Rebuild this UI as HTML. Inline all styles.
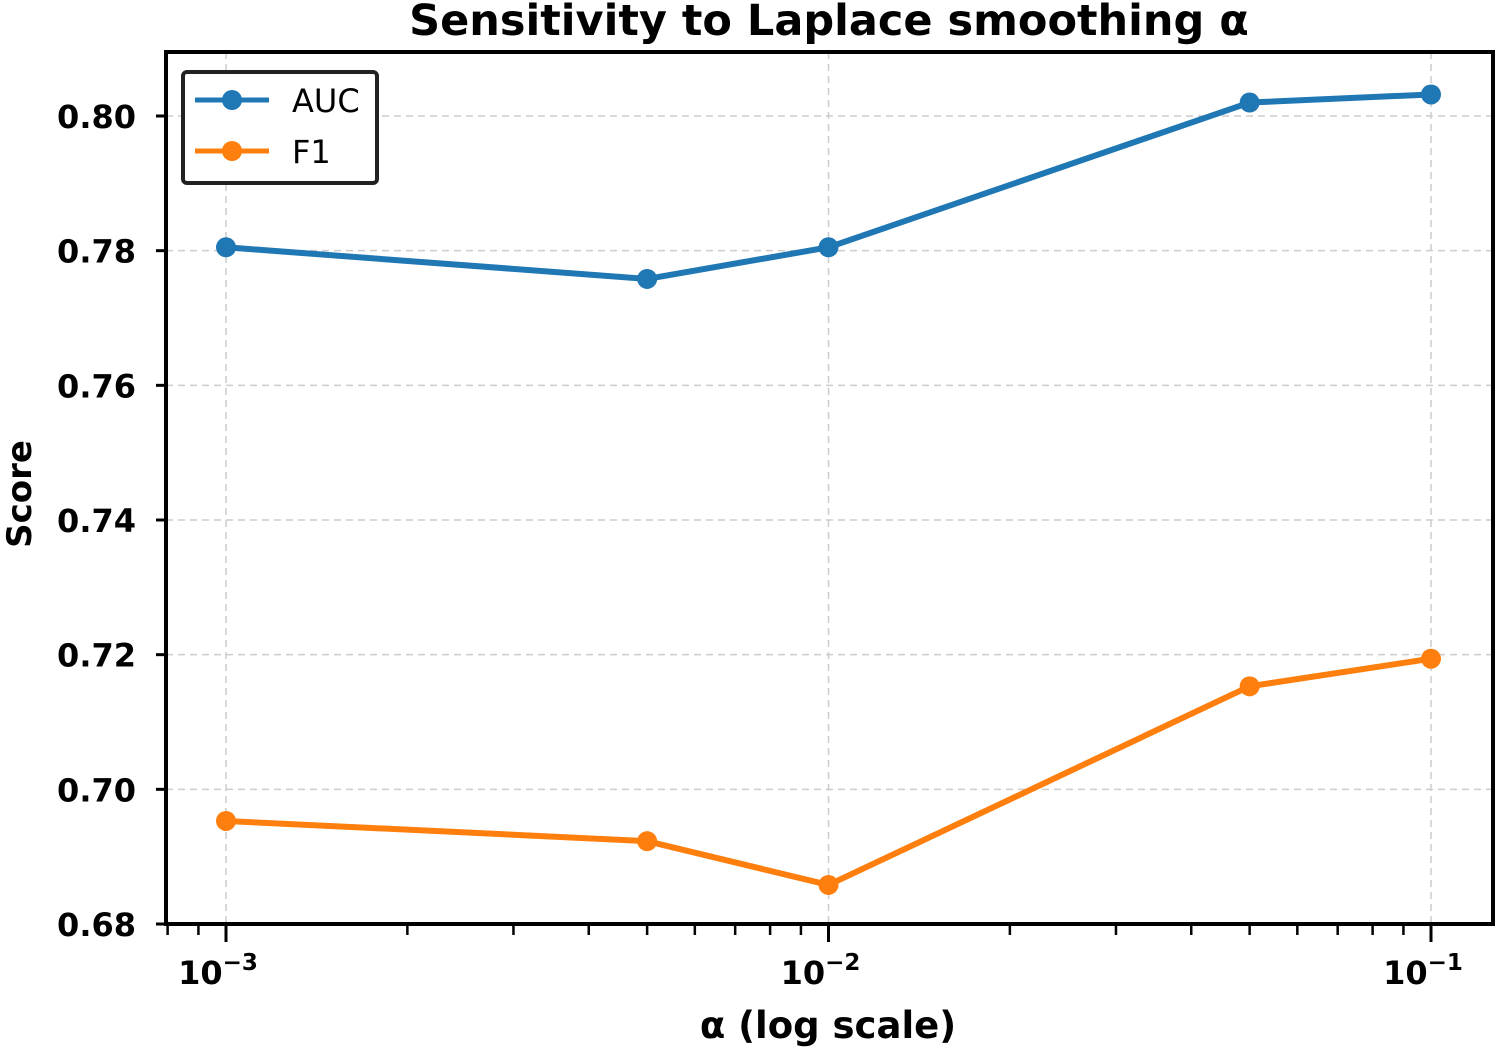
<!DOCTYPE html>
<html><head><meta charset="utf-8">
<style>
html,body{margin:0;padding:0;background:#fff;}
svg{display:block;font-family:"DejaVu Sans","Liberation Sans",sans-serif;}
</style></head>
<body>
<svg id="chart" width="1500" height="1050" viewBox="0 0 1500 1050" xmlns="http://www.w3.org/2000/svg">
<text x="829" y="35" text-anchor="middle" font-size="43" font-weight="bold">Sensitivity to Laplace smoothing α</text>
<g id="grid"></g>
<g id="ticks"></g>
<g id="series"></g>
<rect x="166" y="52" width="1327" height="872" fill="none" stroke="#000" stroke-width="4"/>
<text x="828" y="1038" text-anchor="middle" font-size="37" font-weight="bold">α (log scale)</text>
<text transform="translate(31,494) rotate(-90)" text-anchor="middle" font-size="34" font-weight="bold">Score</text>
<g>
<rect x="183" y="72" width="194" height="111" rx="4" fill="#fff" stroke="#222" stroke-width="4"/>
<g>
<line x1="195" y1="100" x2="269" y2="100" stroke="#1f77b4" stroke-width="5"/>
<circle cx="232" cy="100" r="10" fill="#1f77b4"/>
<text x="292" y="112" font-size="32">AUC</text></g>
<g>
<line x1="195" y1="151" x2="269" y2="151" stroke="#ff7f0e" stroke-width="5"/>
<circle cx="232" cy="151" r="10" fill="#ff7f0e"/>
<text x="292" y="163" font-size="32">F1</text></g>
</g>
</svg>
<script>
const alphas = [0.001, 0.005, 0.01, 0.05, 0.1];
const aucValues = [0.7805, 0.7758, 0.7805, 0.8020, 0.8032];
const f1Values = [0.6953, 0.6923, 0.6858, 0.7153, 0.7194];
const yTicks = [0.68, 0.70, 0.72, 0.74, 0.76, 0.78, 0.80];
const yTickLabels = ["0.68", "0.70", "0.72", "0.74", "0.76", "0.78", "0.80"];
const xMajor = [0.001, 0.01, 0.1];
const xMajorExp = ["−3", "−2", "−1"];

const NS = "http://www.w3.org/2000/svg";
const X0 = 226, DEC = 602.5;
function xs(v){ return X0 + (Math.log10(v) + 3) * DEC; }
function ys(v){ return 924 - (v - 0.68) / 0.12 * 808; }
function mk(tag, attrs, parent){
  const e = document.createElementNS(NS, tag);
  for (const k in attrs) e.setAttribute(k, attrs[k]);
  parent.appendChild(e); return e;
}
const grid = document.getElementById('grid');
const ticks = document.getElementById('ticks');
const series = document.getElementById('series');

yTicks.forEach((t, i) => {
  const y = ys(t);
  const g = mk('line', {x1:166, x2:1493, y1:y, y2:y, stroke:'#ccc', 'stroke-width':1.5, 'stroke-dasharray':'7,5'}, grid);
  
  
  const tk = mk('line', {x1:156, x2:166, y1:y, y2:y, stroke:'#000', 'stroke-width':3}, ticks);
  
  
  const tx = mk('text', {x:136, y:y + 12, 'text-anchor':'end', 'font-size':32, 'font-weight':'bold'}, ticks);
  tx.textContent = yTickLabels[i];
  
  
});
xMajor.forEach((t, i) => {
  const x = xs(t);
  const g = mk('line', {x1:x, x2:x, y1:52, y2:924, stroke:'#ccc', 'stroke-width':1.5, 'stroke-dasharray':'7,5'}, grid);
  
  
  const tk = mk('line', {x1:x, x2:x, y1:924, y2:942, stroke:'#000', 'stroke-width':3}, ticks);
  
  
  const tx = mk('text', {x:x - 8, y:984, 'text-anchor':'middle', 'font-size':32, 'font-weight':'bold'}, ticks);
  
  
  tx.textContent = '10';
  const sp = mk('tspan', {dy:-14, 'font-size':23}, tx);
  sp.textContent = xMajorExp[i];
});
for (let d = -4; d <= -1; d++) {
  for (let m = 2; m <= 9; m++) {
    const v = m * Math.pow(10, d);
    const x = xs(v);
    if (x < 166 || x > 1493) continue;
    const tk = mk('line', {x1:x, x2:x, y1:924, y2:935, stroke:'#000', 'stroke-width':2.5}, ticks);
    
    
  }
}
function drawSeries(vals, color, name){
  const pts = alphas.map((a, i) => xs(a) + ',' + ys(vals[i])).join(' ');
  const pl = mk('polyline', {points:pts, fill:'none', stroke:color, 'stroke-width':6, 'stroke-linejoin':'round'}, series);
  
  
  alphas.forEach((a, i) => {
    const c = mk('circle', {cx:xs(a), cy:ys(vals[i]), r:10, fill:color}, series);
    
    
  });
}
drawSeries(aucValues, '#1f77b4', 'auc');
drawSeries(f1Values, '#ff7f0e', 'f1');
</script>
</body></html>
